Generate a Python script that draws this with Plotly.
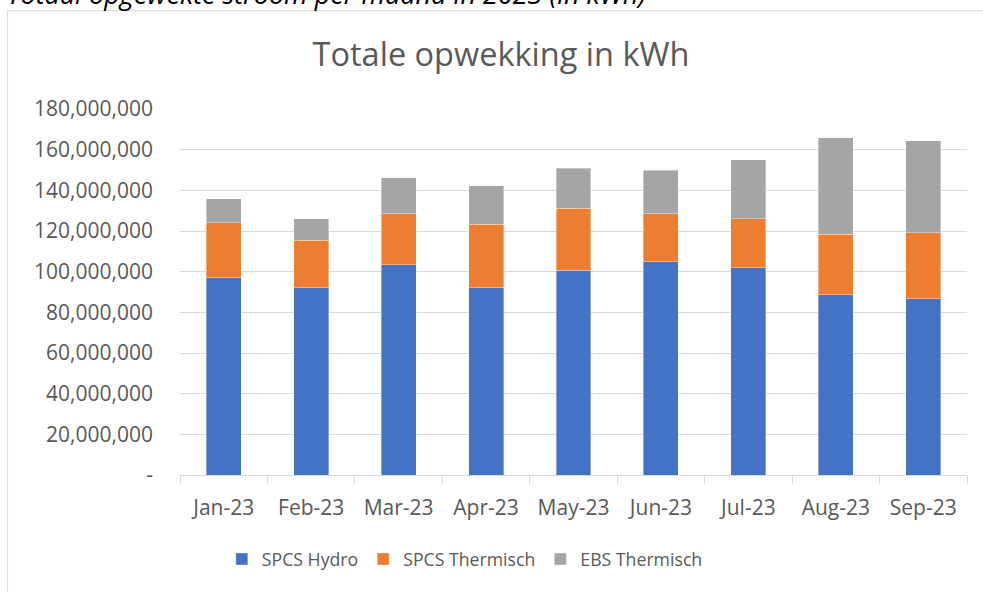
import plotly.graph_objects as go

months = ["Jan-23", "Feb-23", "Mar-23", "Apr-23", "May-23", "Jun-23", "Jul-23", "Aug-23", "Sep-23"]
spcs_hydro = [97.1e6, 92.2e6, 103.3e6, 92.2e6, 100.7e6, 105.0e6, 102.0e6, 88.6e6, 86.6e6]
spcs_thermisch = [26.9e6, 23.2e6, 25.3e6, 31.1e6, 30.5e6, 23.4e6, 24.0e6, 29.8e6, 32.5e6]
ebs_thermisch = [11.9e6, 10.6e6, 17.7e6, 19.0e6, 19.6e6, 21.5e6, 29.1e6, 47.5e6, 45.2e6]
y_tickvals = [0, 20e6, 40e6, 60e6, 80e6, 100e6, 120e6, 140e6, 160e6, 180e6]
y_ticktext = ["-", "20,000,000", "40,000,000", "60,000,000", "80,000,000", "100,000,000",
              "120,000,000", "140,000,000", "160,000,000", "180,000,000"]

W, H = 983, 592
L, R, T, B = 180, 983 - 967.5, 109.3, 592 - 475.5
pw, ph = W - L - R, H - T - B

def px(x):
    return (x - L) / pw

def py(y):
    return (H - B - y) / ph

FONT = "Open Sans"
GREY_TXT = "#595959"

fig = go.Figure()
for name, vals, col in [("SPCS Hydro", spcs_hydro, "#4472C4"),
                        ("SPCS Thermisch", spcs_thermisch, "#ED7D31"),
                        ("EBS Thermisch", ebs_thermisch, "#A5A5A5")]:
    fig.add_trace(go.Bar(x=months, y=vals, name=name,
                         marker=dict(color=col, line=dict(color="rgba(255,255,255,0.6)", width=0.6))))

fig.update_layout(
    width=W, height=H,
    barmode="stack", bargap=0.6,
    margin=dict(l=L, r=R, t=T, b=B, autoexpand=False),
    paper_bgcolor="white", plot_bgcolor="white",
    font=dict(family=FONT, color=GREY_TXT),
    title=dict(text="Totale opwekking in kWh", xref="container", x=501 / W, xanchor="center",
               yref="container", y=1 - 55 / H, yanchor="middle",
               font=dict(family=FONT, size=32.5, color=GREY_TXT)),
    legend=dict(orientation="h", x=px(465), xanchor="center", y=py(560), yanchor="middle",
                font=dict(family=FONT, size=17.7, color=GREY_TXT), traceorder="normal"),
    showlegend=True,
)
fig.update_yaxes(range=[0, 180e6], tickvals=y_tickvals, ticktext=y_ticktext,
                 showgrid=True, gridcolor="#D9D9D9", gridwidth=1,
                 zeroline=False, showline=False, ticks="",
                 tickfont=dict(family=FONT, size=21, color=GREY_TXT),
                 ticklabelstandoff=26, fixedrange=True)
fig.update_xaxes(showline=True, linecolor="#D9D9D9", linewidth=1,
                 ticks="outside", tickson="boundaries", ticklen=8, tickcolor="#D9D9D9",
                 tickfont=dict(family=FONT, size=21, color=GREY_TXT),
                 ticklabelstandoff=14, showgrid=False, fixedrange=True)

# chart frame
fig.add_shape(type="rect", xref="paper", yref="paper",
              x0=px(7.5), x1=px(1100), y0=py(700), y1=py(11),
              line=dict(color="#D9D9D9", width=1), fillcolor="rgba(0,0,0,0)", layer="below")

# caption above the frame (cut off at the top)
fig.add_annotation(text="<i>Totaal opgewekte stroom per maand in 2023 (in kWh)</i>",
                   xref="paper", yref="paper", x=px(5), xanchor="left",
                   y=py(14), yanchor="bottom", showarrow=False,
                   font=dict(family=FONT, size=27, color="#000000"))

fig.write_html("out.html", config={"displayModeBar": False},
               post_script="document.body.style.margin='0';document.body.style.overflow='hidden';")
